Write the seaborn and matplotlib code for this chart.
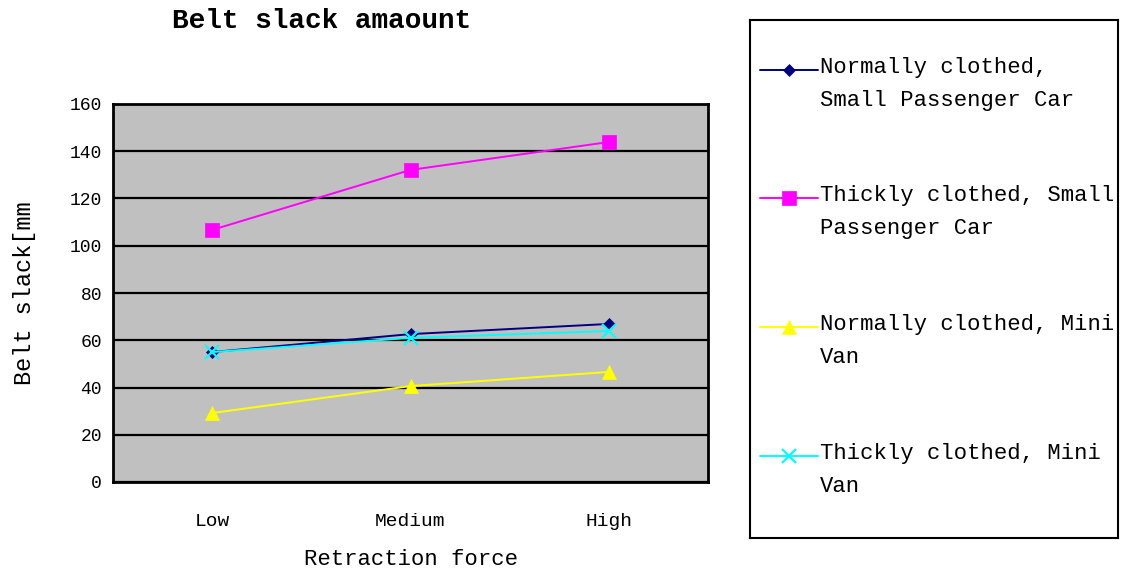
import numpy as np
import pandas as pd
import matplotlib
matplotlib.use("Agg")
import matplotlib.pyplot as plt
import seaborn as sns

# ---- data ----
categories = ["Low", "Medium", "High"]
series_names = [
    "Normally clothed, Small Passenger Car",
    "Thickly clothed, Small Passenger Car",
    "Normally clothed, Mini Van",
    "Thickly clothed, Mini Van",
]
legend_labels = [
    "Normally clothed,\nSmall Passenger Car",
    "Thickly clothed, Small\nPassenger Car",
    "Normally clothed, Mini\nVan",
    "Thickly clothed, Mini\nVan",
]
normal_small = [55.0, 62.6, 66.9]
thick_small = [106.7, 132.1, 143.9]
normal_van = [29.2, 40.6, 46.6]
thick_van = [55.0, 61.0, 63.9]
y_ticks = [0, 20, 40, 60, 80, 100, 120, 140, 160]

colors = ["#000080", "#FF00FF", "#FFFF00", "#00FFFF"]
markers = ["D", "s", "^", "x"]
msizes = [6, 10, 10, 10]

sns.set_style("white")
plt.rcParams["font.family"] = ["Liberation Mono", "DejaVu Sans"]
plt.rcParams["text.color"] = "black"
plt.rcParams["axes.labelcolor"] = "black"
plt.rcParams["xtick.color"] = "black"
plt.rcParams["ytick.color"] = "black"

values = [normal_small, thick_small, normal_van, thick_van]
df = pd.DataFrame({
    "force": categories * len(series_names),
    "slack": [v for s in values for v in s],
    "series": [n for n in series_names for _ in categories],
})

fig = plt.figure(figsize=(11.29, 5.81), dpi=100)
ax = fig.add_axes([113 / 1129, 1 - 482 / 581, (708 - 113) / 1129, (482 - 104) / 581])
ax.set_facecolor("#C0C0C0")

for name, c, m, ms in zip(series_names, colors, markers, msizes):
    sub = df[df["series"] == name]
    sns.lineplot(data=sub, x="force", y="slack", color=c, marker=m, markersize=ms,
                 markeredgecolor=c, markerfacecolor=c, markeredgewidth=1.6 if m == "x" else 0.5,
                 linewidth=1.4, sort=False, ax=ax, legend=False)

ax.set_xlim(-0.5, 2.5)
ax.set_ylim(0, 160)
ax.set_yticks(y_ticks)
ax.set_yticklabels([str(t) for t in y_ticks], fontsize=13)
ax.set_xticks(range(len(categories)))
ax.set_xticklabels(categories, fontsize=14)
ax.set_xticks([0.5, 1.5], minor=True)
ax.tick_params(axis="x", which="major", length=0, pad=22)
ax.tick_params(axis="x", which="minor", length=7, width=1.2, direction="in", color="black")
ax.tick_params(axis="y", length=0, pad=8)
ax.yaxis.grid(True, color="black", linewidth=1.6)
ax.xaxis.grid(False)
ax.set_axisbelow(True)
for sp in ax.spines.values():
    sp.set_visible(True)
    sp.set_color("black")
    sp.set_linewidth(2)
ax.set_xlabel("Retraction force", fontsize=16, labelpad=14)
ax.set_ylabel("Belt slack[mm", fontsize=17, labelpad=24)

fig.text(322 / 1129, 1 - 21 / 581, "Belt slack amaount", fontsize=20, fontweight="bold",
         ha="center", va="center")

# legend box
lax = fig.add_axes([750 / 1129, 1 - 538 / 581, 368 / 1129, 518 / 581])
lax.set_xlim(0, 1)
lax.set_ylim(0, 1)
lax.set_xticks([])
lax.set_yticks([])
for sp in lax.spines.values():
    sp.set_visible(True)
    sp.set_color("black")
    sp.set_linewidth(1.5)
ys = [0.9035, 0.6564, 0.4073, 0.1583]
for lab, c, m, ms, y in zip(legend_labels, colors, markers, msizes, ys):
    lax.plot([0.027, 0.106, 0.185], [y, y, y], color=c, linewidth=1.4, marker=m,
             markersize=ms, markevery=[1], markeredgecolor=c, markerfacecolor=c,
             markeredgewidth=1.6 if m == "x" else 0.5)
    lax.text(0.19, y + 0.026, lab, fontsize=16, ha="left", va="top", linespacing=1.75)

fig.savefig("out.png", dpi=100)
